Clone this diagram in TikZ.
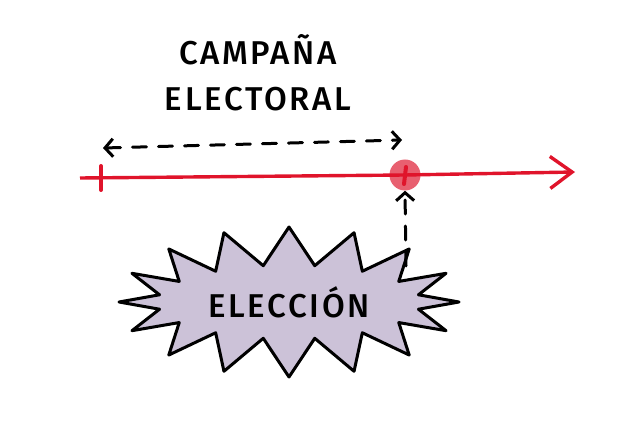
\documentclass[tikz,border=0pt]{standalone}
\usepackage{fontspec}
\setmainfont[LetterSpace=8]{Fira Sans Medium}
\usepackage{tikz}
\usetikzlibrary{shapes.symbols, arrows.meta, positioning, calc}
\definecolor{lineRed}{HTML}{E0142B}
\definecolor{dotRed}{HTML}{E86070}
\definecolor{burstPurple}{HTML}{CCC2D8}

\begin{document}
\begin{tikzpicture}[
    x=1pt, y=-1pt,
    every node/.style={font=\fontsize{33}{46}\selectfont},
    timeline/.style={draw=lineRed, line width=3.4pt, -{Straight Barb[length=22pt, width=32pt, line width=3.4pt]}},
    tickmark/.style={draw=lineRed, line width=4pt, line cap=round},
    dasharrow/.style={dash pattern=on 14pt off 12pt, line width=3pt, line cap=round},
    barb/.tip={Straight Barb[length=8pt, width=18pt, line width=3pt]},
    burst/.style={starburst, starburst points=16, starburst point height=38pt, random starburst=0, draw, line width=3pt, line join=round, fill=burstPurple, minimum width=340pt, minimum height=150pt}
  ]
    \useasboundingbox (0,0) rectangle (634,438);

    \node[align=center] (title) at (258,73) {CAMPAÑA\\ELECTORAL};

    \coordinate (lineL) at (80,178);
    \coordinate (lineR) at (575,172);
    \coordinate (tickTop) at (101,166);
    \coordinate (tickBot) at (101,190);
    \node[circle, fill=dotRed, minimum size=31pt, inner sep=0pt] (event) at (405,175) {};

    \draw[timeline] (lineL) -- (event.center) -- (lineR);
    \draw[tickmark] (tickTop) -- (tickBot);
    \draw[tickmark] ($(event.center)+(1,-8)$) -- ($(event.center)+(-1,9)$);

    \coordinate (campL) at (103,148);
    \coordinate (campR) at (402,140);
    \draw[dasharrow, barb-barb] (campL) -- (campR);

    \node[burst] (eleccion) at (289,302) {};
    \node (eleccionText) at (eleccion.center) {ELECCIÓN};

    \coordinate (eleccionTop) at (406,266);
    \draw[dasharrow, -barb] (eleccionTop) -- (event.south);

  \end{tikzpicture}
\end{document}
